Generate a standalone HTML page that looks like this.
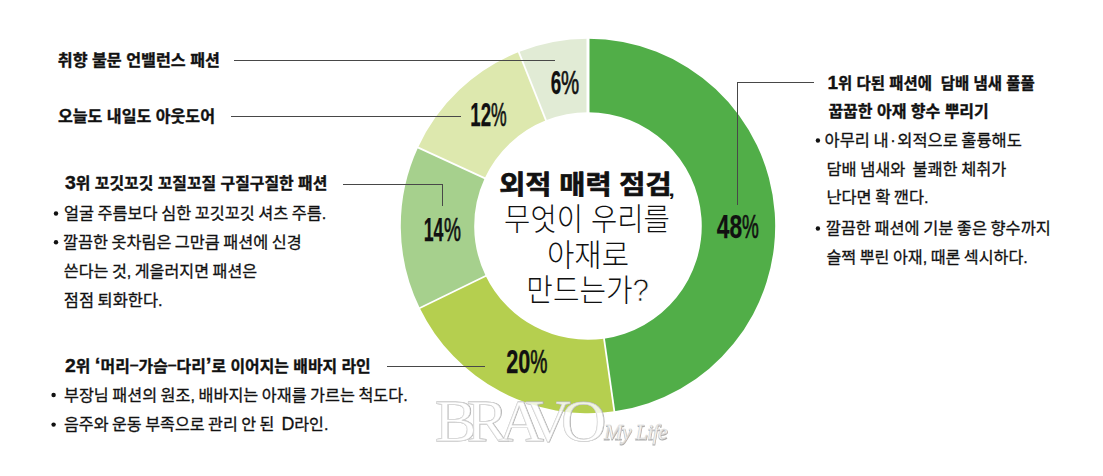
<!DOCTYPE html>
<html lang="ko"><head><meta charset="utf-8"><title>외적 매력 점검</title>
<style>html,body{margin:0;padding:0;background:#fff}svg{display:block}text{fill:#111;white-space:pre}.wa text{fill:none;stroke:#adadad;stroke-width:.95}.wb text{fill:#fff;fill-opacity:.8;stroke:#d4d4d4;stroke-width:.5}</style></head><body>
<svg width="1103" height="476" viewBox="0 0 1103 476">
<rect width="1103" height="476" fill="#fff"/>
<path d="M588.00 38.80A187.2 187.2 0 0 1 614.38 411.33L604.03 338.66A113.8 113.8 0 0 0 588.00 112.20Z" fill="#51ae48"/>
<path d="M614.38 411.33A187.2 187.2 0 0 1 419.75 308.06L485.72 275.89A113.8 113.8 0 0 0 604.03 338.66Z" fill="#b5cf4f"/>
<path d="M419.75 308.06A187.2 187.2 0 0 1 418.06 147.48L484.69 178.27A113.8 113.8 0 0 0 485.72 275.89Z" fill="#a6d08d"/>
<path d="M418.06 147.48A187.2 187.2 0 0 1 518.78 52.07L545.92 120.26A113.8 113.8 0 0 0 484.69 178.27Z" fill="#dde8ae"/>
<path d="M518.78 52.07A187.2 187.2 0 0 1 588.00 38.80L588.00 112.20A113.8 113.8 0 0 0 545.92 120.26Z" fill="#e1ebd5"/>
<line x1="588.00" y1="113.20" x2="588.00" y2="37.80" stroke="#fff" stroke-width="3.0"/>
<line x1="603.89" y1="337.67" x2="614.52" y2="412.32" stroke="#fff" stroke-width="1.8"/>
<line x1="486.62" y1="275.45" x2="418.85" y2="308.50" stroke="#fff" stroke-width="1.8"/>
<line x1="485.60" y1="178.69" x2="417.16" y2="147.06" stroke="#fff" stroke-width="1.8"/>
<line x1="546.29" y1="121.19" x2="518.41" y2="51.14" stroke="#fff" stroke-width="1.8"/>
<g stroke="#484848" stroke-width="1" fill="none" shape-rendering="crispEdges">
<path d="M234 60.5H555"/>
<path d="M231 116.5H460.5"/>
<path d="M343 184.5H442.5V205.5"/>
<path d="M387 366.5H485"/>
<path d="M813.5 82.5H737.5V204.5"/>
</g>
<g fill="#111">
<circle cx="56" cy="213.5" r="2.2"/><circle cx="56" cy="242.2" r="2.2"/>
<circle cx="53.6" cy="395" r="2.2"/><circle cx="53.6" cy="424.6" r="2.2"/>
<circle cx="817.9" cy="140.5" r="2.2"/><circle cx="817.9" cy="228.5" r="2.2"/>
</g>
<defs><filter id="ws" x="-5%" y="-20%" width="110%" height="140%"><feGaussianBlur stdDeviation="0.55"/></filter></defs>
<g font-family='"Liberation Serif",serif'>
<g filter="url(#ws)" class="wa">
<text transform="translate(435,441.1) scale(1.047,1)" font-size="60" letter-spacing="-9.6">BRAVO</text>
<text x="604.4" y="439.6" font-size="22" font-style="italic" letter-spacing="-0.7">My Life</text>
</g>
<g class="wb">
<text id="BR" transform="translate(434.5,440.6) scale(1.047,1)" font-size="60" letter-spacing="-9.6">BRAVO</text>
<text id="ML" x="604" y="439.2" font-size="22" font-style="italic" letter-spacing="-0.7">My Life</text>
</g>
</g>

<text id="A" x="57.80" y="66.14" font-family='"Liberation Sans","Noto Sans CJK KR",sans-serif' font-size="15.50" font-weight="700" textLength="162.10" lengthAdjust="spacingAndGlyphs" stroke="#111" stroke-width="0.35">취향 불문 언밸런스 패션</text>
<text id="B" x="58.00" y="122.08" font-family='"Liberation Sans","Noto Sans CJK KR",sans-serif' font-size="15.50" font-weight="700" textLength="156.94" lengthAdjust="spacingAndGlyphs" stroke="#111" stroke-width="0.35">오늘도 내일도 아웃도어</text>
<text id="C" x="65.00" y="189.15" font-family='"Liberation Sans","Noto Sans CJK KR",sans-serif' font-size="15.50" font-weight="700" textLength="262.37" lengthAdjust="spacingAndGlyphs" stroke="#111" stroke-width="0.35"><tspan font-size="19">3</tspan>위 꼬깃꼬깃 꼬질꼬질 구질구질한 패션</text>
<text id="C1" x="64.00" y="218.91" font-family='"Liberation Sans","Noto Sans CJK KR",sans-serif' font-size="16.30" font-weight="400" textLength="262.37" lengthAdjust="spacingAndGlyphs" stroke="#111" stroke-width="0.3" word-spacing="-1">얼굴 주름보다 심한 꼬깃꼬깃 셔츠 주름.</text>
<text id="C2" x="63.00" y="247.52" font-family='"Liberation Sans","Noto Sans CJK KR",sans-serif' font-size="16.30" font-weight="400" textLength="238.73" lengthAdjust="spacingAndGlyphs" stroke="#111" stroke-width="0.3" word-spacing="-1">깔끔한 옷차림은 그만큼 패션에 신경</text>
<text id="C3" x="63.80" y="276.60" font-family='"Liberation Sans","Noto Sans CJK KR",sans-serif' font-size="16.30" font-weight="400" textLength="193.32" lengthAdjust="spacingAndGlyphs" stroke="#111" stroke-width="0.3" word-spacing="-1">쓴다는 것, 게을러지면 패션은</text>
<text id="C4" x="63.80" y="305.99" font-family='"Liberation Sans","Noto Sans CJK KR",sans-serif' font-size="16.30" font-weight="400" textLength="98.86" lengthAdjust="spacingAndGlyphs" stroke="#111" stroke-width="0.3" word-spacing="-1">점점 퇴화한다.</text>
<text id="D" x="65.00" y="371.68" font-family='"Liberation Sans","Noto Sans CJK KR",sans-serif' font-size="15.50" font-weight="700" textLength="305.73" lengthAdjust="spacingAndGlyphs" stroke="#111" stroke-width="0.35"><tspan font-size="19">2</tspan>위 <tspan font-size="20">‘</tspan>머리<tspan dy="-1.6">–</tspan><tspan dy="1.6">가</tspan>슴<tspan dy="-1.6">–</tspan><tspan dy="1.6">다</tspan>리<tspan font-size="20">’</tspan>로 이어지는 배바지 라인</text>
<text id="D1" x="64.00" y="400.91" font-family='"Liberation Sans","Noto Sans CJK KR",sans-serif' font-size="16.30" font-weight="400" textLength="343.70" lengthAdjust="spacingAndGlyphs" stroke="#111" stroke-width="0.3" word-spacing="-1">부장님 패션의 원조, 배바지는 아재를 가르는 척도다.</text>
<text id="D2" x="64.00" y="429.90" font-family='"Liberation Sans","Noto Sans CJK KR",sans-serif' font-size="16.30" font-weight="400" textLength="264.46" lengthAdjust="spacingAndGlyphs" stroke="#111" stroke-width="0.3" word-spacing="-1">음주와 운동 부족으로 관리 안 된  <tspan font-size="18">D</tspan>라인.</text>
<text id="E" x="827.50" y="88.74" font-family='"Liberation Sans","Noto Sans CJK KR",sans-serif' font-size="15.50" font-weight="700" textLength="207.20" lengthAdjust="spacingAndGlyphs" stroke="#111" stroke-width="0.35"><tspan font-size="19">1</tspan>위 다된 패션에  담배 냄새 풀풀</text>
<text id="F" x="828.40" y="116.71" font-family='"Liberation Sans","Noto Sans CJK KR",sans-serif' font-size="15.50" font-weight="700" textLength="160.37" lengthAdjust="spacingAndGlyphs" stroke="#111" stroke-width="0.35">꿉꿉한 아재 향수 뿌리기</text>
<text id="E1" x="824.50" y="145.92" font-family='"Liberation Sans","Noto Sans CJK KR",sans-serif' font-size="16.30" font-weight="400" textLength="197.36" lengthAdjust="spacingAndGlyphs" stroke="#111" stroke-width="0.3" word-spacing="-1">아무리 내<tspan dx="1.6">·</tspan><tspan dx="1.6">외</tspan>적으로 훌륭해도</text>
<text id="E2" x="826.50" y="174.91" font-family='"Liberation Sans","Noto Sans CJK KR",sans-serif' font-size="16.30" font-weight="400" textLength="179.93" lengthAdjust="spacingAndGlyphs" stroke="#111" stroke-width="0.3" word-spacing="-1">담배 냄새와  불쾌한 체취가</text>
<text id="E3" x="826.50" y="203.49" font-family='"Liberation Sans","Noto Sans CJK KR",sans-serif' font-size="16.30" font-weight="400" textLength="102.00" lengthAdjust="spacingAndGlyphs" stroke="#111" stroke-width="0.3" word-spacing="-1">난다면 확 깬다.</text>
<text id="E4" x="825.70" y="233.80" font-family='"Liberation Sans","Noto Sans CJK KR",sans-serif' font-size="16.30" font-weight="400" textLength="225.10" lengthAdjust="spacingAndGlyphs" stroke="#111" stroke-width="0.3" word-spacing="-1">깔끔한 패션에 기분 좋은 향수까지</text>
<text id="E5" x="826.50" y="263.05" font-family='"Liberation Sans","Noto Sans CJK KR",sans-serif' font-size="16.30" font-weight="400" textLength="201.31" lengthAdjust="spacingAndGlyphs" stroke="#111" stroke-width="0.3" word-spacing="-1">슬쩍 뿌린 아재, 때론 섹시하다.</text>
<text id="T1" x="499.25" y="193.56" font-family='"Liberation Sans","Noto Sans CJK KR",sans-serif' font-size="26.64" font-weight="700" textLength="172.29" lengthAdjust="spacingAndGlyphs" stroke="#111" stroke-width="0.7" stroke-linejoin="round">외적 매력 점검</text>
<text id="T1c" x="666.65" y="195.84" font-family='"Liberation Sans","Noto Sans CJK KR",sans-serif' font-size="22.15" font-weight="400" textLength="9.61" lengthAdjust="spacingAndGlyphs" >,</text>
<text id="T2" x="504.10" y="230.29" font-family='"Liberation Sans","Noto Sans CJK KR",sans-serif' font-size="30.62" font-weight="300" textLength="165.63" lengthAdjust="spacingAndGlyphs" >무엇이 우리를</text>
<text id="T3" x="546.90" y="265.80" font-family='"Liberation Sans","Noto Sans CJK KR",sans-serif' font-size="30.38" font-weight="300" textLength="82.13" lengthAdjust="spacingAndGlyphs" >아재로</text>
<text id="T4" x="526.35" y="301.09" font-family='"Liberation Sans","Noto Sans CJK KR",sans-serif' font-size="30.68" font-weight="300" textLength="122.62" lengthAdjust="spacingAndGlyphs" >만드는가<tspan stroke="#fff" stroke-width="0.75" font-size="31.5">?</tspan></text>
<text id="P48d" x="716.75" y="237.70" font-family='"Liberation Sans",sans-serif' font-size="33.00" font-weight="700" textLength="25.37" lengthAdjust="spacingAndGlyphs" stroke="#111" stroke-width="0.25">48</text>
<text id="P48p" x="742.00" y="237.70" font-family='"Liberation Sans",sans-serif' font-size="33.00" font-weight="400" textLength="16.79" lengthAdjust="spacingAndGlyphs" stroke="#111" stroke-width="0.7">%</text>
<text id="P20d" x="506.25" y="372.50" font-family='"Liberation Sans",sans-serif' font-size="33.00" font-weight="700" textLength="24.15" lengthAdjust="spacingAndGlyphs" stroke="#111" stroke-width="0.25">20</text>
<text id="P20p" x="530.20" y="372.50" font-family='"Liberation Sans",sans-serif' font-size="33.00" font-weight="400" textLength="17.16" lengthAdjust="spacingAndGlyphs" stroke="#111" stroke-width="0.7">%</text>
<text id="P14d" x="423.65" y="240.50" font-family='"Liberation Sans",sans-serif' font-size="33.00" font-weight="700" textLength="19.81" lengthAdjust="spacingAndGlyphs" stroke="#111" stroke-width="0.25">14</text>
<text id="P14p" x="444.05" y="240.50" font-family='"Liberation Sans",sans-serif' font-size="33.00" font-weight="400" textLength="16.95" lengthAdjust="spacingAndGlyphs" stroke="#111" stroke-width="0.7">%</text>
<text id="P12d" x="470.25" y="126.30" font-family='"Liberation Sans",sans-serif' font-size="33.00" font-weight="700" textLength="20.80" lengthAdjust="spacingAndGlyphs" stroke="#111" stroke-width="0.25">12</text>
<text id="P12p" x="491.00" y="126.30" font-family='"Liberation Sans",sans-serif' font-size="33.00" font-weight="400" textLength="15.64" lengthAdjust="spacingAndGlyphs" stroke="#111" stroke-width="0.7">%</text>
<text id="P6d" x="550.70" y="93.50" font-family='"Liberation Sans",sans-serif' font-size="33.00" font-weight="700" textLength="10.48" lengthAdjust="spacingAndGlyphs" stroke="#111" stroke-width="0.25">6</text>
<text id="P6p" x="560.95" y="93.50" font-family='"Liberation Sans",sans-serif' font-size="33.00" font-weight="400" textLength="18.14" lengthAdjust="spacingAndGlyphs" stroke="#111" stroke-width="0.7">%</text>
</svg></body></html>
